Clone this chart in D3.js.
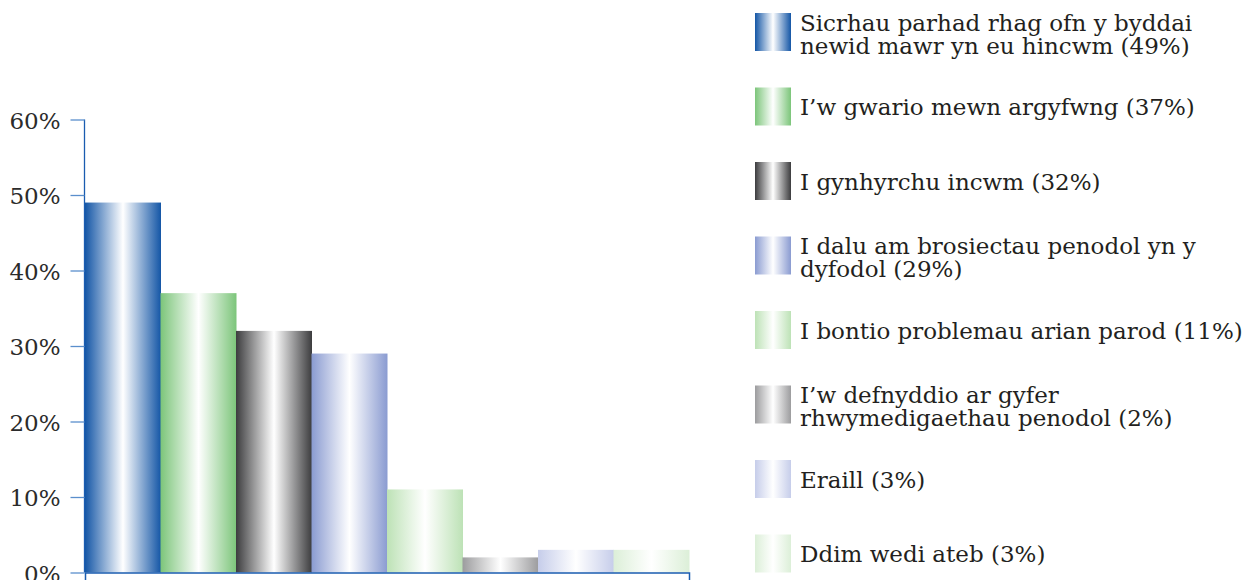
<!DOCTYPE html>
<html><head><meta charset="utf-8">
<script src="https://cdn.jsdelivr.net/npm/d3@7/dist/d3.min.js"></script>
<style>body{margin:0;background:#fff}svg{display:block}</style>
</head><body>
<script>
const categories = ["Sicrhau parhad rhag ofn y byddai newid mawr yn eu hincwm","I\u2019w gwario mewn argyfwng","I gynhyrchu incwm","I dalu am brosiectau penodol yn y dyfodol","I bontio problemau arian parod","I\u2019w defnyddio ar gyfer rhwymedigaethau penodol","Eraill","Ddim wedi ateb"];
const values = [49, 37, 32, 29, 11, 2, 3, 3];
const legendLines = [
  ["Sicrhau parhad rhag ofn y byddai","newid mawr yn eu hincwm (49%)"],
  ["I\u2019w gwario mewn argyfwng (37%)"],
  ["I gynhyrchu incwm (32%)"],
  ["I dalu am brosiectau penodol yn y","dyfodol (29%)"],
  ["I bontio problemau arian parod (11%)"],
  ["I\u2019w defnyddio ar gyfer","rhwymedigaethau penodol (2%)"],
  ["Eraill (3%)"],
  ["Ddim wedi ateb (3%)"]
];
const yTicks = [0, 10, 20, 30, 40, 50, 60];
const colors = ["#1456a6","#7cc57a","#3c3c3e","#8a9bd1","#bde2b6","#9c9c9e","#c6cdea","#dcefd8"];

const W = 1257, H = 580;
const svg = d3.select("body").append("svg").attr("width", W).attr("height", H);
const defs = svg.append("defs");
colors.forEach((c, i) => {
  const g = defs.append("linearGradient").attr("id", "g" + i).attr("x1", "0").attr("x2", "1").attr("y1", "0").attr("y2", "0");
  g.append("stop").attr("offset", "0%").attr("stop-color", c);
  g.append("stop").attr("offset", "50%").attr("stop-color", "#ffffff");
  g.append("stop").attr("offset", "100%").attr("stop-color", c);
});

const x = d3.scaleBand().domain(categories).range([85, 689]).padding(0);
const y = d3.scaleLinear().domain([0, 60]).range([572.5, 119.5]);

svg.append("g").selectAll("rect").data(values).join("rect")
  .attr("x", (d, i) => x(categories[i]))
  .attr("width", x.bandwidth() + 0.5)
  .attr("y", d => y(d))
  .attr("height", d => y(0) - y(d))
  .attr("fill", (d, i) => `url(#g${i})`);

const font = "'DejaVu Serif', serif";
const yAxis = svg.append("g").attr("transform", "translate(84.5,0)")
  .call(d3.axisLeft(y).tickValues(yTicks).tickFormat(d => d + "%").tickSize(14).tickPadding(10));
yAxis.select(".domain").attr("stroke", "#1a5cb0").attr("stroke-width", 1.3).attr("d", `M0,${y(60)}V${y(0)}`);
yAxis.selectAll(".tick line").attr("stroke", "#5a8fcc").attr("stroke-width", 1.3);
yAxis.selectAll(".tick text").attr("fill", "#2b2b2b").style("font-family", font).style("font-size", "23px").attr("dy", "0.38em");

const xAxis = svg.append("g").attr("transform", `translate(0,${y(0)})`)
  .call(d3.axisBottom(x).tickValues([]).tickSizeOuter(8));
xAxis.select(".domain").attr("stroke", "#1a5cb0").attr("stroke-width", 1.5);

const leg = svg.append("g");
legendLines.forEach((lines, i) => {
  const top = 13 + i * 74.5;
  leg.append("rect").attr("x", 755).attr("y", top).attr("width", 36).attr("height", 38).attr("fill", `url(#g${i})`);
  const cy = top + 19;
  const base = lines.length === 1 ? cy + 8.5 : cy - 1.5;
  const txt = leg.append("text").attr("x", 800).attr("y", base)
    .attr("fill", "#231f20").style("font-family", font).style("font-size", "23px");
  lines.forEach((t, j) => {
    txt.append("tspan").attr("x", 800).attr("dy", j === 0 ? 0 : 23).text(t);
  });
});
</script>
</body></html>
